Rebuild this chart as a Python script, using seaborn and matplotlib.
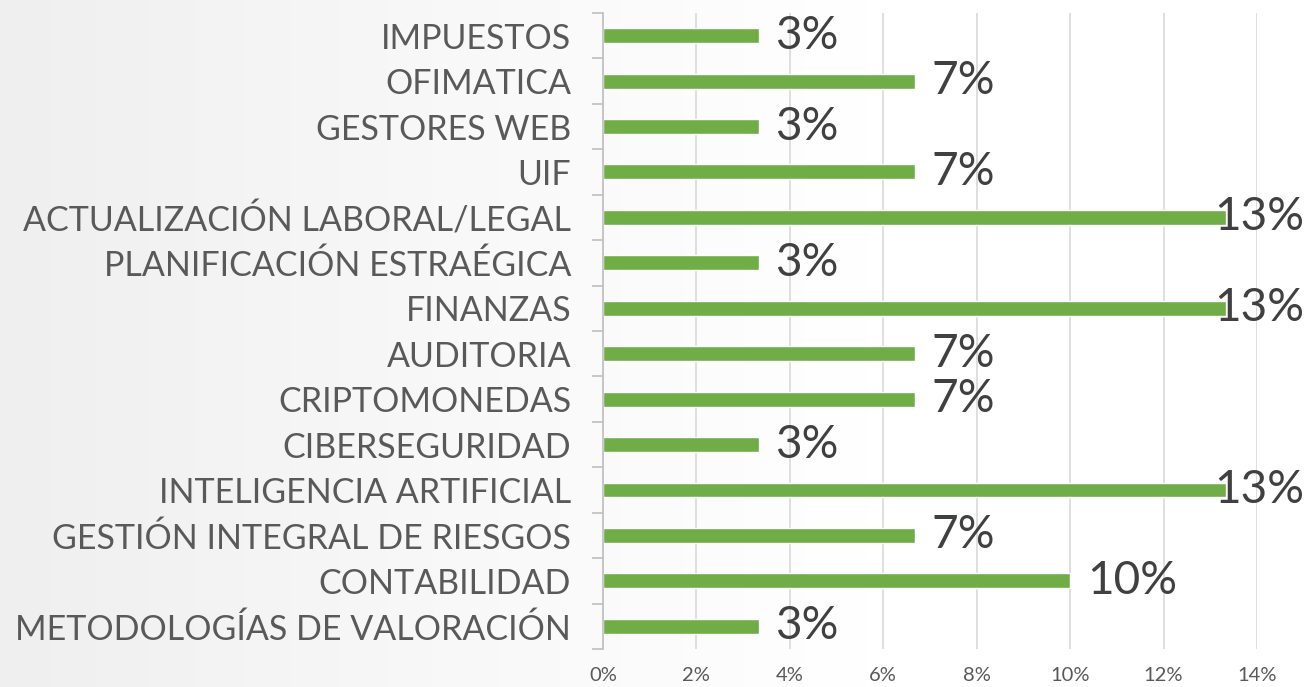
import matplotlib
matplotlib.use("Agg")
import matplotlib.pyplot as plt
import numpy as np
import pandas as pd
import seaborn as sns
from matplotlib.ticker import PercentFormatter, FixedLocator

# data (share of answers per topic)
temas = ["IMPUESTOS", "OFIMATICA", "GESTORES WEB", "UIF",
         "ACTUALIZACIÓN LABORAL/LEGAL", "PLANIFICACIÓN ESTRAÉGICA", "FINANZAS",
         "AUDITORIA", "CRIPTOMONEDAS", "CIBERSEGURIDAD", "INTELIGENCIA ARTIFICIAL",
         "GESTIÓN INTEGRAL DE RIESGOS", "CONTABILIDAD", "METODOLOGÍAS DE VALORACIÓN"]
porcentajes = [0.0333, 0.0667, 0.0333, 0.0667, 0.1333, 0.0333, 0.1333,
               0.0667, 0.0667, 0.0333, 0.1333, 0.0667, 0.1, 0.0333]
x_ticks = [0, 0.02, 0.04, 0.06, 0.08, 0.10, 0.12, 0.14]

df = pd.DataFrame({"tema": temas, "pct": porcentajes})

sns.set_theme(style="white")
plt.rcParams["font.family"] = ["Lato", "DejaVu Sans"]

fig = plt.figure(figsize=(13.04, 6.87), dpi=100)

# soft grey-to-white background
bg = fig.add_axes([0, 0, 1, 1], zorder=-1)
grad = np.linspace(0, 1, 256)[None, :]
bg.imshow(grad, aspect="auto", cmap=matplotlib.colors.LinearSegmentedColormap.from_list(
    "bg", ["#efefef", "#f8f8f8", "#ffffff", "#ffffff"]), extent=[0, 1, 0, 1])
bg.axis("off")

ax = fig.add_axes([0.4624, 0.0553, 0.5015, 0.9258])
ax.set_facecolor("none")

sns.barplot(data=df, y="tema", x="pct", order=temas, color="#70AD47",
            width=0.33, orient="h", saturation=1, ax=ax)

ax.set_xlim(0, 0.14)
ax.set_ylim(len(temas) - 0.5, -0.5)
ax.xaxis.set_major_locator(FixedLocator(x_ticks))
ax.xaxis.set_major_formatter(PercentFormatter(1.0, decimals=0))
ax.grid(axis="x", color="#d9d9d9", linewidth=1.2)
ax.set_axisbelow(True)
ax.set_xlabel("")
ax.set_ylabel("")

for s in ["top", "right", "bottom"]:
    ax.spines[s].set_visible(False)
ax.spines["left"].set_color("#bfbfbf")
ax.spines["left"].set_linewidth(1.2)

# category separators as ticks on the left spine
ax.set_yticks(np.arange(-0.5, len(temas), 1), minor=True)
ax.tick_params(axis="y", which="minor", length=8, color="#bfbfbf", width=1.2, left=True)
ax.tick_params(axis="y", which="major", length=0, pad=23, labelsize=24.5, labelcolor="#595959")
ax.tick_params(axis="x", length=0, pad=13, labelsize=14.5, labelcolor="#595959")

# data labels
for i, v in enumerate(porcentajes):
    off = 12 if v < 0.12 else -8
    ax.annotate(f"{v:.0%}", (v, i), xytext=(off, 0), textcoords="offset points",
                va="center", ha="left", fontsize=33, color="#404040",
                annotation_clip=False)

fig.savefig("out.png", dpi=100)
